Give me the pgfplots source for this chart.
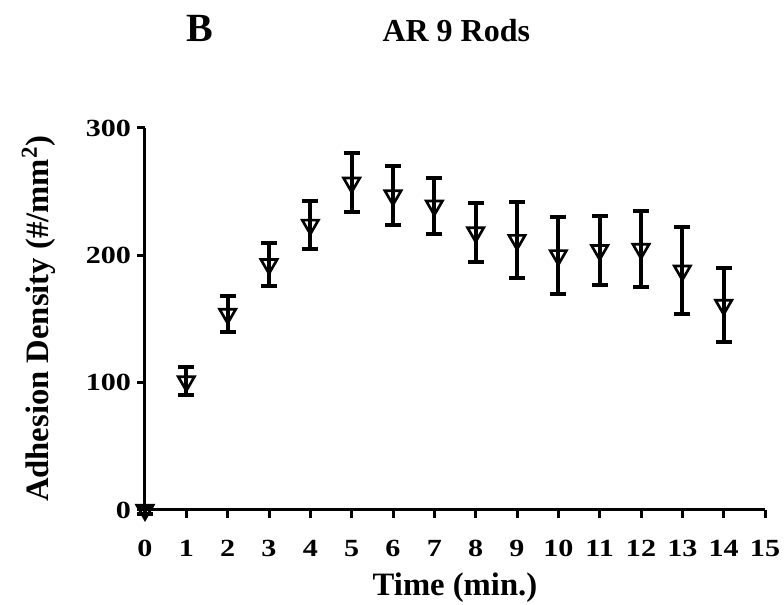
\documentclass[border=0pt]{standalone}
\usepackage{fontspec}
\setmainfont{Liberation Serif}
\newfontfamily\tickfont[FakeStretch=1.22]{Liberation Serif}
\usepackage{pgfplots}
\pgfplotsset{compat=1.18}

\pgfplotstableread{
x    y    e
0    0    3
1    101  11
2    154  14
3    193  17
4    224  19
5    257  23
6    247  23
7    239  22
8    218  23
9    212  30
10   200  30
11   204  27
12   205  30
13   188  34
14   161  29
}\adhesion

\begin{document}
\begin{tikzpicture}[font=\bfseries]
\useasboundingbox (-108.75pt,-71.25pt) rectangle (479.25pt,382.5pt);
\begin{axis}[
  at={(0,0)}, anchor=south west,
  scale only axis, width=465pt, height=286.5pt,
  xmin=0, xmax=15, ymin=0, ymax=300,
  axis x line*=bottom, axis y line*=left,
  axis line style={line width=2.25pt},
  xtick={0,...,15}, ytick={0,100,200,300},
  minor tick num=0,
  tick align=outside, major tick length=6pt,
  every tick/.style={line width=2.25pt, black},
  /pgf/number format/assume math mode=true,
  tick label style={font=\tickfont\bfseries\fontsize{18.5}{18.5}\selectfont},
  xticklabel style={anchor=north, text height=12.5pt, text depth=0pt, inner sep=0pt, yshift=-16pt},
  yticklabel style={xshift=-1pt},
  xlabel={Time (min.)},
  ylabel={Adhesion Density (\#/mm\textsuperscript{2})},
  every axis x label/.style={at={(axis description cs:0.5,0)}, anchor=base,
    yshift=-64.5pt, font=\bfseries\fontsize{24.5}{25}\selectfont},
  every axis y label/.style={at={(axis description cs:0,0.5)}, anchor=base,
    rotate=90, yshift=72pt, font=\bfseries\fontsize{24.5}{25}\selectfont},
  clip=false,
]
\addplot[
  only marks, black,
  mark=triangle, mark options={rotate=180, fill=white, line width=2pt, mark size=7pt},
  error bars/.cd, y dir=both, y explicit,
  error bar style={line width=3pt},
  error mark options={rotate=90, mark size=6pt, line width=3pt},
] table[x=x, y=y, y error=e] {\adhesion};
\end{axis}
\node[anchor=base, font=\bfseries\fontsize{30}{30}\selectfont] at (40.9pt,351pt) {B};
\node[anchor=base, font=\bfseries\fontsize{24}{24}\selectfont] at (233.5pt,351pt) {AR 9 Rods};
\end{tikzpicture}
\end{document}
